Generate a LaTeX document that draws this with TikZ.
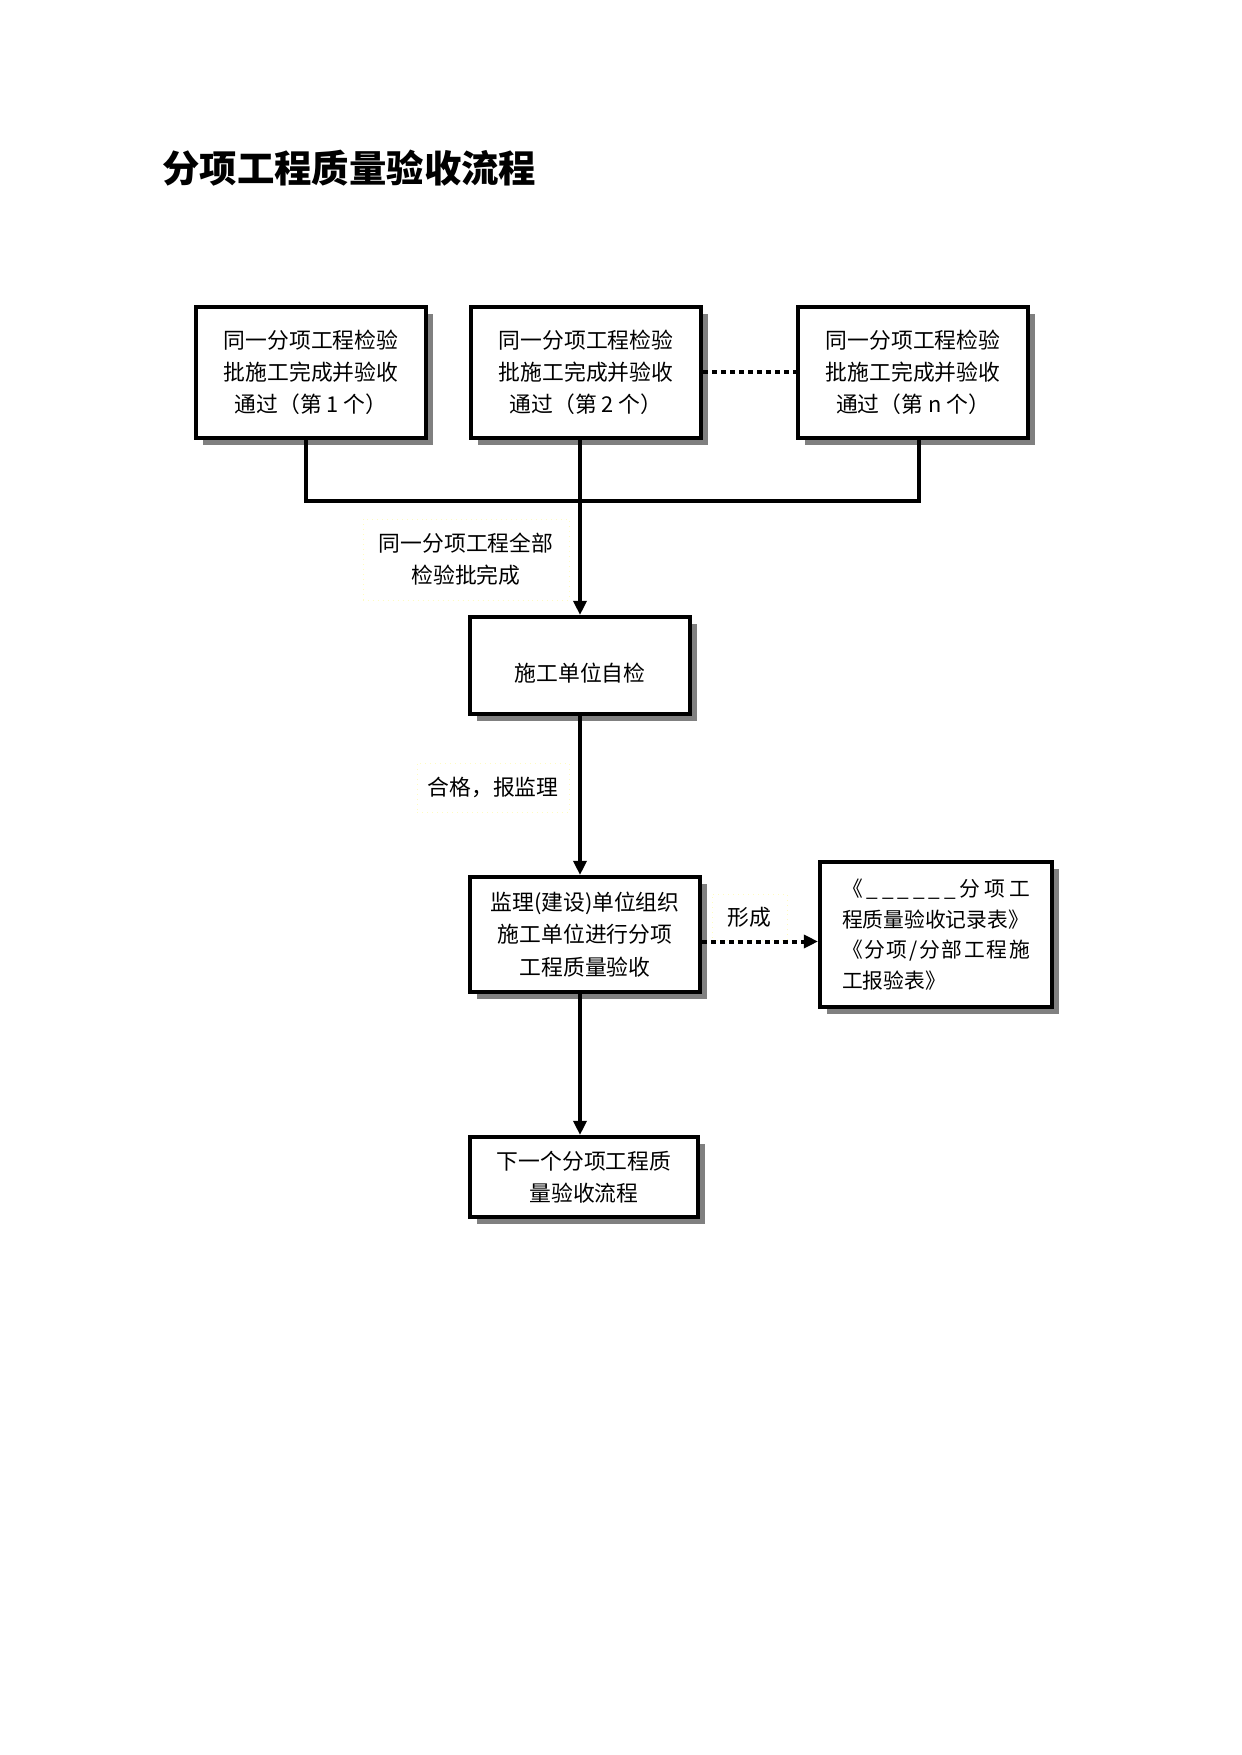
\documentclass[tikz,border=0pt]{standalone}
\usepackage{fontspec}
\setmainfont{Noto Sans CJK SC}
\usetikzlibrary{arrows.meta,shadows}
\newlength\unitpx
\setlength\unitpx{0.16922mm}
\tikzset{
  stepbox/.style={draw, fill=white, line width=4\unitpx, align=center, inner sep=0pt,
    font=\fontsize{10.5}{15.5}\selectfont,
    drop shadow={shadow xshift=7\unitpx, shadow yshift=-7\unitpx, fill=black!50, opacity=1}},
  note/.style={draw=yellow!25, dotted, line width=0.4pt, align=center, inner sep=0pt,
    font=\fontsize{10.5}{15.5}\selectfont},
  link/.style={line width=4\unitpx},
  flow/.style={link, -{Triangle[width=2.2mm,length=2.4mm]}},
  dots/.style={line width=4\unitpx, dash pattern=on 5\unitpx off 4\unitpx},
}
\begin{document}
\begin{tikzpicture}[x=\unitpx, y=-\unitpx]
    \useasboundingbox (0,0) rectangle (1241,1755);
    \node[anchor=west, font=\fontsize{18}{22}\selectfont\bfseries] (title) at (155,168) {分项工程质量验收流程};

    \node[stepbox, minimum width=230\unitpx, minimum height=131\unitpx] (batch1) at (311,372.5) {同一分项工程检验\\批施工完成并验收\\通过（第 1 个）};
    \node[stepbox, minimum width=230\unitpx, minimum height=131\unitpx] (batch2) at (586,372.5) {同一分项工程检验\\批施工完成并验收\\通过（第 2 个）};
    \node[stepbox, minimum width=230\unitpx, minimum height=131\unitpx] (batchn) at (913,372.5) {同一分项工程检验\\批施工完成并验收\\通过（第 n 个）};
    \node[stepbox, minimum width=220\unitpx, minimum height=97\unitpx]  (selfcheck) at (580,665.5) {\raisebox{0pt}[\dimexpr\height+16\unitpx\relax]{施工单位自检}};
    \node[stepbox, minimum width=230\unitpx, minimum height=115\unitpx] (accept) at (585,934.5) {监理(建设)单位组织\\施工单位进行分项\\工程质量验收};
    \node[stepbox, minimum width=232\unitpx, minimum height=145\unitpx, align=left,
          text width=188\unitpx, font=\fontsize{10}{14.7}\selectfont] (record) at (936,934.5)
          {\makebox[188\unitpx]{《\hfill\_\hfill\_\hfill\_\hfill\_\hfill\_\hfill\_\hfill 分\hfill 项\hfill 工}\\
           程质量验收记录表》\\
           \makebox[188\unitpx]{《\hfill 分\hfill 项\hfill/\hfill 分\hfill 部\hfill 工\hfill 程\hfill 施}\\
           工报验表》};
    \node[stepbox, minimum width=228\unitpx, minimum height=80\unitpx]  (next) at (584,1177) {下一个分项工程质\\量验收流程};

    \node[note, minimum width=206\unitpx, minimum height=81\unitpx] (allbatch) at (466,559.5) {同一分项工程全部\\检验批完成};
    \node[note, minimum width=152\unitpx, minimum height=49\unitpx] (qualified) at (493,787.5) {合格，报监理};
    \node[note, minimum width=75\unitpx, minimum height=46\unitpx]  (form) at (749.5,917) {形成};

    \coordinate (join1) at (306,501);
    \coordinate (joinn) at (919,501);

    \draw[dots] (batch2.east) to (batchn.west);
    \draw[link] (batch1.south -| join1) -- (join1) -- (joinn) -- (batchn.south -| joinn);
    \draw[flow] (batch2.south -| selfcheck.north) to (selfcheck.north);
    \draw[flow] (selfcheck.south) to (selfcheck.south |- accept.north);
    \draw[flow] (selfcheck.south |- accept.south) to (selfcheck.south |- next.north);
    \draw[dots, -{Triangle[width=2.2mm,length=2.4mm]}] ([yshift=-7\unitpx]accept.east) to ([yshift=-7\unitpx]record.west);
\end{tikzpicture}
\end{document}
